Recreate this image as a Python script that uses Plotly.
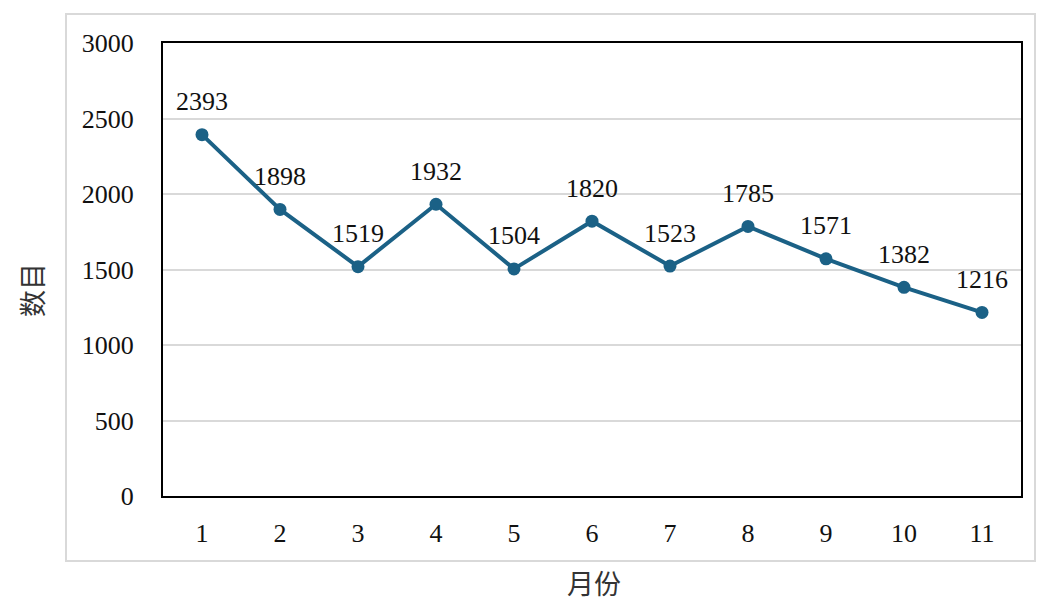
import plotly.graph_objects as go

months = ["1", "2", "3", "4", "5", "6", "7", "8", "9", "10", "11"]
counts = [2393, 1898, 1519, 1932, 1504, 1820, 1523, 1785, 1571, 1382, 1216]
y_ticks = [0, 500, 1000, 1500, 2000, 2500, 3000]

LINE_COLOR = "#1b6186"
SERIF = "Liberation Serif, Times New Roman, serif"
CJK = "Noto Sans CJK SC, sans-serif"

fig = go.Figure()
fig.add_trace(go.Scatter(
    x=months, y=counts, mode="lines+markers",
    line=dict(color=LINE_COLOR, width=4),
    marker=dict(color=LINE_COLOR, size=13),
    hoverinfo="skip", showlegend=False,
))

# value labels above each point (category index positions)
for i, v in enumerate(counts):
    fig.add_annotation(x=i, y=v, text=str(v), showarrow=False, yshift=33,
                       xanchor="center", yanchor="middle",
                       font=dict(family=SERIF, size=26, color="#111"))

# axis titles
fig.add_annotation(xref="paper", yref="paper", x=(594 - 163) / 858, y=(496 - 582) / 453,
                   xanchor="center", yanchor="middle",
                   text="月份", showarrow=False, font=dict(family=CJK, size=27, color="#333"))
fig.add_annotation(xref="paper", yref="paper", x=(31 - 163) / 858, y=(496 - 290) / 453,
                   xanchor="center", yanchor="middle",
                   text="数目", showarrow=False, textangle=-90,
                   font=dict(family=CJK, size=27, color="#333"))

# light outer frame
fig.add_shape(type="rect", xref="paper", yref="paper",
              x0=(66 - 163) / 858, x1=(1035 - 163) / 858,
              y0=(496 - 561) / 453, y1=(496 - 14) / 453,
              line=dict(color="#d9d9d9", width=2), fillcolor="rgba(0,0,0,0)", layer="below")

fig.update_xaxes(
    type="category", range=[-0.5, 10.5],
    showline=True, linecolor="black", linewidth=2, mirror=True,
    showgrid=False, ticks="", ticklabelstandoff=13,
    tickfont=dict(family=SERIF, size=26, color="#111"),
)
fig.update_yaxes(
    range=[0, 3000], tickvals=y_ticks,
    showline=True, linecolor="black", linewidth=2, mirror=True,
    showgrid=True, gridcolor="#d9d9d9", gridwidth=1.5, zeroline=False,
    ticks="", ticklabelstandoff=22,
    tickfont=dict(family=SERIF, size=26, color="#111"),
)

fig.update_layout(
    width=1037, height=603,
    margin=dict(l=163, r=16, t=43, b=107),
    paper_bgcolor="white", plot_bgcolor="white",
)

fig.write_html("out.html")
